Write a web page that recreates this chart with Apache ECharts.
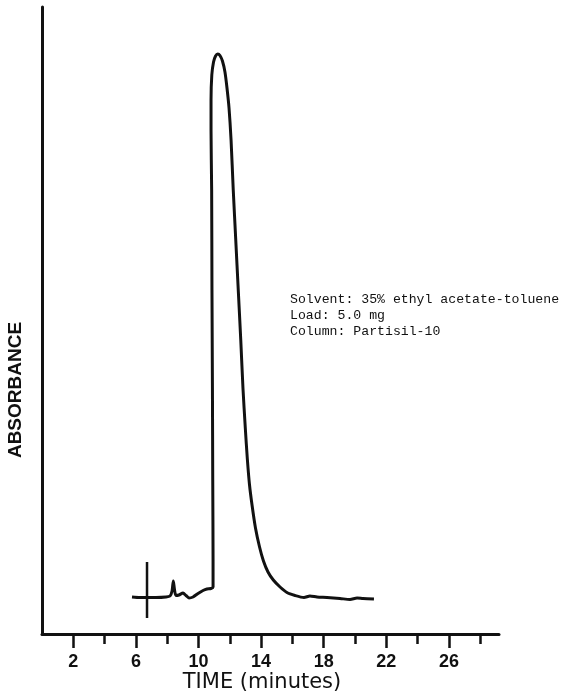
<!DOCTYPE html>
<html>
<head>
<meta charset="utf-8">
<style>
  html, body { margin: 0; padding: 0; background: #fff; }
  #chart { width: 563px; height: 697px; }
</style>
<script src="https://cdn.jsdelivr.net/npm/echarts@6/dist/echarts.min.js"></script>
</head>
<body>
<div id="chart"></div>
<script>
// Chromatogram trace: time (minutes) vs detector absorbance (arbitrary units)
const traceTime = [
  5.75, 6.26, 6.71, 7.28, 7.92, 8.18, 8.31, 8.39, 8.47, 8.56,
  8.75, 9.01, 9.20, 9.39, 9.65, 9.97, 10.29, 10.54, 10.80, 10.93,
  10.93, 10.91, 10.89, 10.86, 10.84, 10.80, 10.80, 10.85, 10.96, 11.09,
  11.23, 11.37, 11.53, 11.69, 11.82, 11.95, 12.08, 12.22, 12.38, 12.54,
  12.70, 12.84, 12.99, 13.12, 13.26, 13.42, 13.64, 13.90, 14.15, 14.44,
  14.78, 15.21, 15.65, 16.17, 16.74, 17.12, 17.57, 18.21, 19.04, 19.68,
  20.13, 20.51, 21.21
];
const traceAbs = [
  37, 36.5, 36.5, 36.5, 37, 38, 43, 53, 44, 38.5,
  39, 41, 38.5, 36, 37, 40.5, 43.5, 45, 45.5, 47,
  74, 154, 244, 344, 444, 504, 534, 559, 572, 578,
  580, 578.5, 573, 562, 546, 526, 494, 444, 394, 344,
  294, 246, 206, 175, 149, 129, 106, 87, 73, 62,
  54, 47, 41.5, 38.5, 36.5, 38, 37, 36.5, 35.5, 34.5,
  36, 35.5, 35
];

// Injection marker (vertical bar across the baseline)
const injectTime = 6.71;
const injectSpan = [16, 72];

// Axis settings
const timeMin = 0;
const timeMax = 29.2;
const absMax = 627;
const majorTicks = [2, 6, 10, 14, 18, 22, 26];
const minorTicks = [4, 8, 12, 16, 20, 24, 28];

// Conditions note
const noteLines = [
  'Solvent: 35% ethyl acetate-toluene',
  'Load: 5.0 mg',
  'Column: Partisil-10'
];

const ink = '#111';
const chart = echarts.init(document.getElementById('chart'));

const option = {
  animation: false,
  backgroundColor: '#fff',
  grid: { left: 42, right: 64, top: 7, bottom: 63 },
  xAxis: [
    {
      type: 'value', min: timeMin, max: timeMax,
      axisLine: { show: true, lineStyle: { color: ink, width: 3 } },
      axisTick: { show: true, customValues: majorTicks, length: 14, lineStyle: { color: ink, width: 2.5 } },
      axisLabel: {
        show: true, customValues: majorTicks, margin: 19,
        color: ink, fontFamily: 'Liberation Sans', fontWeight: 'bold', fontSize: 18
      },
      splitLine: { show: false }
    },
    {
      type: 'value', min: timeMin, max: timeMax, position: 'bottom',
      axisLine: { show: false },
      axisTick: { show: true, customValues: minorTicks, length: 10, lineStyle: { color: ink, width: 2.5 } },
      axisLabel: { show: false },
      splitLine: { show: false }
    }
  ],
  yAxis: {
    type: 'value', min: 0, max: absMax,
    axisLine: { show: true, lineStyle: { color: ink, width: 3 } },
    axisTick: { show: false },
    axisLabel: { show: false },
    splitLine: { show: false }
  },
  series: [
    {
      type: 'line',
      xAxisIndex: 0,
      data: traceTime.map((t, i) => [t, traceAbs[i]]),
      showSymbol: false,
      smooth: 0.25,
      lineStyle: { color: ink, width: 3 },
      silent: true
    },
    {
      type: 'line',
      xAxisIndex: 0,
      data: injectSpan.map(v => [injectTime, v]),
      showSymbol: false,
      lineStyle: { color: ink, width: 2.5 },
      silent: true
    }
  ],
  graphic: [
    {
      type: 'text', x: 16, y: 390, rotation: Math.PI / 2,
      style: {
        text: 'ABSORBANCE', fill: ink,
        font: 'bold 19px "Liberation Sans"',
        align: 'center', verticalAlign: 'middle'
      }
    },
    {
      type: 'text', x: 262, y: 683,
      style: {
        text: 'TIME (minutes)', fill: ink,
        font: '21px "DejaVu Sans"',
        align: 'center', verticalAlign: 'middle'
      }
    },
    {
      type: 'text', x: 290, y: 292,
      style: {
        text: noteLines.join('\n'), fill: ink,
        font: '13.2px "Liberation Mono"', lineHeight: 16,
        align: 'left', verticalAlign: 'top'
      }
    }
  ]
};

chart.setOption(option);
</script>
</body>
</html>
